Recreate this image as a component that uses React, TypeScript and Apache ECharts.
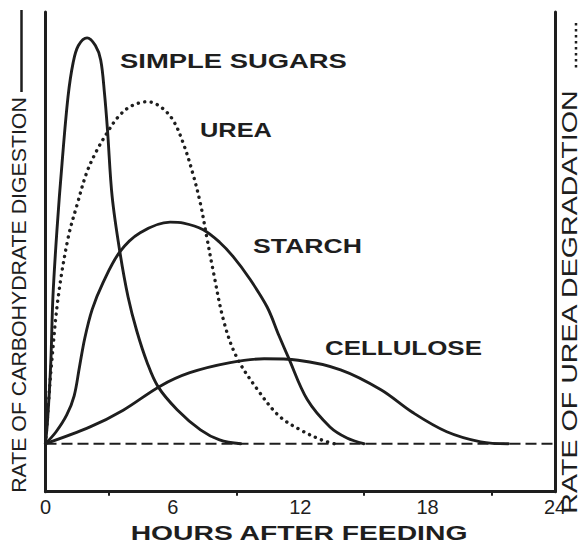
import React, { useEffect, useRef } from "react";
import * as echarts from "echarts";

// ---- data (hours after feeding, relative rate) ----
const hourTicks = [0, 6, 12, 18, 24];

const simpleSugars: [number, number][] = [
  [0, 0], [0.1, 5], [0.25, 17], [0.35, 30.6], [0.54, 44.6], [0.78, 58.5], [1.06, 72.3],
  [1.3, 79.4], [1.55, 83], [1.96, 84.6], [2.35, 83], [2.6, 80], [2.78, 73], [2.92, 65.4],
  [3.14, 51.5], [3.51, 39.8], [3.89, 30.6], [4.3, 23.5], [4.79, 16.9], [5.3, 11.9],
  [6.2, 7.1], [7.3, 2.9], [8.2, 0.8], [9.2, 0],
];

const urea: [number, number][] = [
  [0, 0], [0.1, 6], [0.29, 16.9], [0.6, 30.6], [1.07, 43], [1.5, 50], [1.94, 56.5],
  [2.4, 61], [2.9, 64.8], [3.4, 68], [4.0, 70.3], [4.8, 71.3], [5.4, 70.3], [6.0, 67.5],
  [6.5, 62.5], [6.96, 56], [7.3, 50], [7.6, 43], [7.9, 36], [8.4, 25.5], [9.0, 18.1],
  [10.0, 11.2], [11.0, 5.8], [12.0, 2.9], [13.0, 0.8], [13.6, 0],
];

const starch: [number, number][] = [
  [0, 0], [0.5, 2.5], [1.0, 6], [1.35, 10], [1.6, 16], [1.85, 22], [2.2, 28], [2.7, 33.5],
  [3.5, 40], [4.46, 44], [5.87, 46.2], [6.5, 46], [7.43, 44.6], [8.2, 42], [8.84, 39],
  [9.6, 34.5], [10.44, 28.5], [11.0, 22.5], [11.43, 18.1], [12.33, 9.2], [13.4, 3.5],
  [14.2, 1.2], [15, 0],
];

const cellulose: [number, number][] = [
  [0, 0], [2.1, 3.5], [3.66, 7], [5.4, 12], [6.8, 14.8], [8.7, 16.9], [10.3, 17.7],
  [11.9, 17.4], [13.9, 15.4], [15.8, 11.25], [17.3, 6.5], [18.9, 2.5], [20.5, 0.4], [21.8, 0],
];

const baseline: [number, number][] = [[0, 0], [24, 0]];

const curveLabels = ["SIMPLE SUGARS", "UREA", "STARCH", "CELLULOSE"];
const xTitle = "HOURS AFTER FEEDING";
const leftTitle = "RATE OF CARBOHYDRATE DIGESTION";
const rightTitle = "RATE OF UREA DEGRADATION";

const INK = "#1e1e1e";
const FAMILY = '"Liberation Sans", Arial, sans-serif';

function measure(text: string, size: number, weight: string) {
  const ctx = document.createElement("canvas").getContext("2d");
  if (!ctx) return text.length * size * 0.6;
  ctx.font = `${weight} ${size}px ${FAMILY}`;
  return ctx.measureText(text).width;
}

function stretchedText(
  text: string, x: number, y: number, size: number, weight: string,
  targetLen: number, align: "left" | "center", rotation = 0
) {
  const w = measure(text, size, weight);
  return {
    type: "text",
    x, y, rotation,
    scaleX: targetLen / w,
    silent: true,
    style: {
      text,
      fill: INK,
      fontSize: size,
      fontWeight: weight,
      fontFamily: FAMILY,
      align,
      verticalAlign: "middle",
    },
  };
}

export default function App() {
  const ref = useRef<HTMLDivElement>(null);

  useEffect(() => {
    if (!ref.current) return;
    const chart = echarts.init(ref.current, null, { renderer: "svg" });

    const curve = (name: string, data: [number, number][], type: any, width: number) => ({
      name,
      type: "line",
      data,
      smooth: 0.35,
      showSymbol: false,
      symbol: "none",
      z: 3,
      lineStyle: { color: INK, width, type, cap: "round" },
    });

    const option: any = {
      animation: false,
      backgroundColor: "#ffffff",
      grid: { left: 45.5, right: 31, top: 12, bottom: 53.3, outerBoundsMode: "none" },
      xAxis: {
        type: "value",
        min: hourTicks[0],
        max: hourTicks[hourTicks.length - 1],
        interval: 6,
        axisLine: { show: true, onZero: false, lineStyle: { color: INK, width: 3 } },
        axisTick: { show: false },
        minorTick: { show: true, splitNumber: 2, length: 4, lineStyle: { color: INK, width: 2 } },
        splitLine: { show: false },
        axisLabel: {
          color: INK,
          fontSize: 20,
          fontFamily: FAMILY,
          margin: 5,
          formatter: (v: number) => (hourTicks.includes(v) ? String(v) : ""),
        },
      },
      yAxis: [
        {
          type: "value",
          min: -10,
          max: 90,
          position: "left",
          axisLine: { show: true, onZero: false, lineStyle: { color: INK, width: 3 } },
          axisTick: { show: false },
          axisLabel: { show: false },
          splitLine: { show: false },
        },
        {
          type: "value",
          min: -10,
          max: 90,
          position: "right",
          axisLine: { show: true, onZero: false, lineStyle: { color: INK, width: 3 } },
          axisTick: { show: false },
          axisLabel: { show: false },
          splitLine: { show: false },
        },
      ],
      series: [
        {
          name: "baseline",
          type: "line",
          data: baseline,
          showSymbol: false,
          symbol: "none",
          z: 2,
          lineStyle: { color: INK, width: 2, type: [11, 5] },
        },
        curve("Simple sugars", simpleSugars, "solid", 2.9),
        curve("Urea", urea, [0.1, 6.4], 3.4),
        curve("Starch", starch, "solid", 2.9),
        curve("Cellulose", cellulose, "solid", 2.9),
      ],
      graphic: [
        stretchedText(curveLabels[0], 120, 61, 21, "bold", 227, "left"),
        stretchedText(curveLabels[1], 200, 130, 21, "bold", 72, "left"),
        stretchedText(curveLabels[2], 253, 245.5, 21, "bold", 109, "left"),
        stretchedText(curveLabels[3], 325, 347.5, 21, "bold", 157, "left"),
        stretchedText(xTitle, 299, 532, 21, "bold", 338, "center"),
        stretchedText(leftTitle, 18.5, 295, 21, "normal", 396, "center", Math.PI / 2),
        stretchedText(rightTitle, 569.5, 302, 22, "normal", 425, "center", Math.PI / 2),
        {
          type: "line",
          silent: true,
          shape: { x1: 21.5, y1: 10, x2: 21.5, y2: 92 },
          style: { stroke: INK, lineWidth: 2.5 },
        },
        {
          type: "line",
          silent: true,
          shape: { x1: 576, y1: 23, x2: 576, y2: 71 },
          style: { stroke: INK, lineWidth: 2.5, lineDash: [2.5, 3.5] },
        },
      ],
    };

    chart.setOption(option);
    return () => chart.dispose();
  }, []);

  return (
    <div
      ref={ref}
      style={{ position: "absolute", left: 0, top: 0, width: 586, height: 545, background: "#fff" }}
    />
  );
}
